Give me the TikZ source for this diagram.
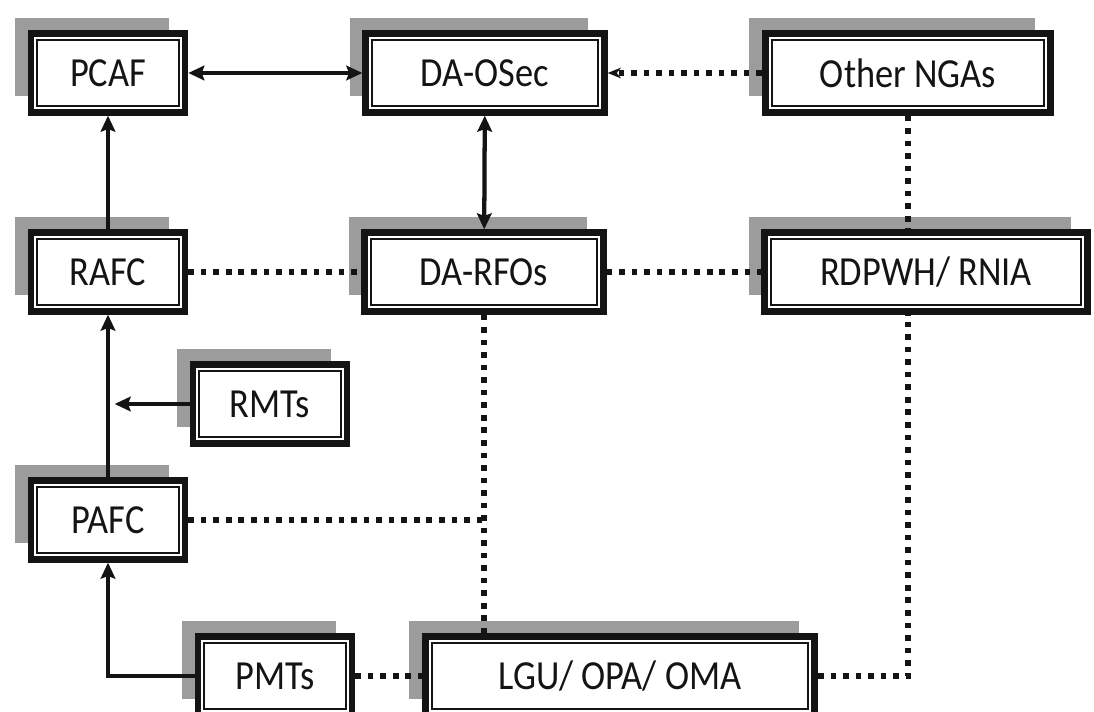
\documentclass[tikz,border=0pt]{standalone}
\usepackage{fontspec}
\usepackage{tikz}
\usetikzlibrary{arrows.meta,shadows}
\newfontfamily\boxfont{Carlito}[FakeStretch=0.88]
\definecolor{ink}  {HTML}{141414}
\definecolor{shade}{HTML}{9C9C9C}

\begin{document}
\begin{tikzpicture}[x=0.75pt,y=-0.75pt,
  font=\boxfont\fontsize{31}{36}\selectfont,
  >={Stealth[length=12pt,width=11pt,inset=2pt]},
  orgbox/.style={draw=ink,line width=5pt,fill=white,text=ink,
    minimum width=#1,minimum height=59pt,inner sep=0pt,
    general shadow={fill=shade,shadow xshift=-12pt,shadow yshift=12pt},
    path picture={\draw[ink,line width=1.5pt]
      ([shift={(4.8pt,4.8pt)}]path picture bounding box.south west) rectangle
      ([shift={(-4.8pt,-4.8pt)}]path picture bounding box.north east);}},
  orgbox/.default=115.5pt,
  solidlink/.style={draw=ink,line width=3.2pt},
  dotlink/.style={draw=ink,line width=3.8pt,dash pattern=on 4.2pt off 5.2pt}]
  \useasboundingbox (0,0) rectangle (1094,712);

  % top row
  \node[orgbox]       (pcaf)   at (108,73)  {PCAF};
  \node[orgbox=179pt] (daosec) at (485,73)  {DA-OSec};
  \node[orgbox=214pt] (ngas)   at (908,73)  {Other NGAs};
  % regional
  \node[orgbox]       (rafc)   at (108,272) {RAFC};
  \node[orgbox=179pt] (rfos)   at (484,272) {DA-RFOs};
  \node[orgbox=242pt] (rdpwh)  at (926,272) {RDPWH/ RNIA};
  \node[orgbox]       (rmts)   at (270,404) {RMTs};
  % provincial / local
  \node[orgbox]       (pafc)   at (108,520) {PAFC};
  \node[orgbox]       (pmts)   at (275,676) {PMTs};
  \node[orgbox=292pt] (lgu)    at (620,676) {LGU/ OPA/ OMA};

  \draw[solidlink,<->] (pcaf) -- (daosec);
  \draw[solidlink,<->] (daosec) -- (rfos);
  \draw[dotlink,-{Stealth[length=10pt,width=8pt]}] (ngas) -- (daosec);
  \draw[solidlink,->] (rafc) -- (pcaf);
  \draw[solidlink,->] (pafc) -- (rafc);
  \draw[solidlink,->,shorten >=5pt] (rmts.west) -- (rmts.west -| rafc.south);
  \draw[solidlink,->] (pmts.west) -| (pafc.south);

  \draw[dotlink] (rafc) -- (rfos);
  \draw[dotlink] (rfos) -- (rdpwh);
  \draw[dotlink] (ngas) -- (ngas.south |- rdpwh.north);
  \draw[dotlink] (rfos) -- (rfos.south |- lgu.north);
  \draw[dotlink] (pafc.east) -- (pafc.east -| rfos.south);
  \draw[dotlink] (pmts) -- (lgu);
  \draw[dotlink] (lgu.east) -| (ngas.south |- rdpwh.south);
\end{tikzpicture}
\end{document}
